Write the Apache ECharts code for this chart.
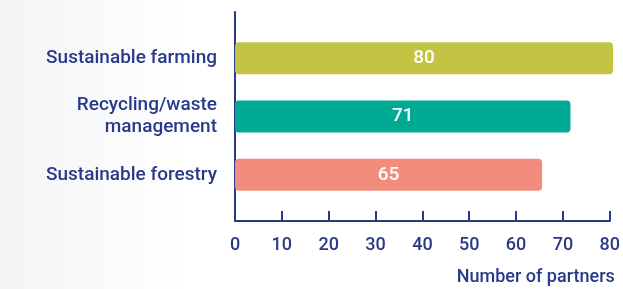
<!DOCTYPE html>
<html>
<head>
<meta charset="utf-8">
<script src="https://cdn.jsdelivr.net/npm/echarts@6/dist/echarts.min.js"></script>
<style>
  html, body { margin: 0; padding: 0; }
  #chart { width: 623px; height: 289px; }
</style>
</head>
<body>
<div id="chart"></div>
<script>
// data
var categories = ['Sustainable farming', 'Recycling/waste\nmanagement', 'Sustainable forestry'];
var partners = [80, 71, 65];
var barColors = ['#c3c443', '#00a994', '#f28c7c'];
var xTicks = [0, 10, 20, 30, 40, 50, 60, 70, 80];

var navy = '#29398a';
var font = 'Roboto, sans-serif';

var chart = echarts.init(document.getElementById('chart'));

var option = {
    backgroundColor: {
        type: 'linear', x: 0, y: 0, x2: 1, y2: 0,
        colorStops: [
            {offset: 0, color: '#f3f4f6'},
            {offset: 0.3, color: '#ffffff'},
            {offset: 1, color: '#ffffff'}
        ]
    },
    textStyle: {fontFamily: font},
    // grid 0 holds the bars, grid 1 draws the axis frame
    grid: [
        {left: 235, right: 10, top: 29, bottom: 85},
        {left: 235, right: 10, top: 12, bottom: 68}
    ],
    xAxis: [
        {
            gridIndex: 0, type: 'value', min: 0, max: 80, interval: 10,
            show: false
        },
        {
            gridIndex: 1, type: 'value', min: xTicks[0], max: xTicks[xTicks.length - 1], interval: 10,
            name: 'Number of partners',
            nameLocation: 'end',
            nameGap: 5,
            nameTextStyle: {
                color: navy, fontFamily: font, fontSize: 18, fontWeight: 500,
                align: 'right', verticalAlign: 'top', padding: [47, 0, 0, 0]
            },
            axisLine: {show: true, lineStyle: {color: navy, width: 2}},
            axisTick: {show: true, inside: true, length: 10, lineStyle: {color: navy, width: 2}},
            axisLabel: {color: navy, fontFamily: font, fontSize: 18, fontWeight: 500, margin: 15},
            splitLine: {show: false}
        }
    ],
    yAxis: [
        {
            gridIndex: 0, type: 'category', data: categories, inverse: true,
            axisLine: {show: false},
            axisTick: {show: false},
            axisLabel: {
                color: navy, fontFamily: font, fontSize: 19, fontWeight: 500, lineHeight: 22,
                margin: 18, align: 'right'
            }
        },
        {
            gridIndex: 1, type: 'value', min: 0, max: 1,
            axisLine: {show: true, lineStyle: {color: navy, width: 2}},
            axisTick: {show: false},
            axisLabel: {show: false},
            splitLine: {show: false}
        }
    ],
    series: [
        {
            type: 'bar',
            xAxisIndex: 0,
            yAxisIndex: 0,
            barWidth: 32,
            data: partners.map(function (v, i) {
                return {value: v, itemStyle: {color: barColors[i]}};
            }),
            itemStyle: {borderRadius: 4},
            label: {
                show: true,
                position: 'inside',
                color: '#ffffff',
                fontFamily: font,
                fontSize: 19,
                fontWeight: 500
            }
        }
    ]
};

chart.setOption(option);
</script>
</body>
</html>
